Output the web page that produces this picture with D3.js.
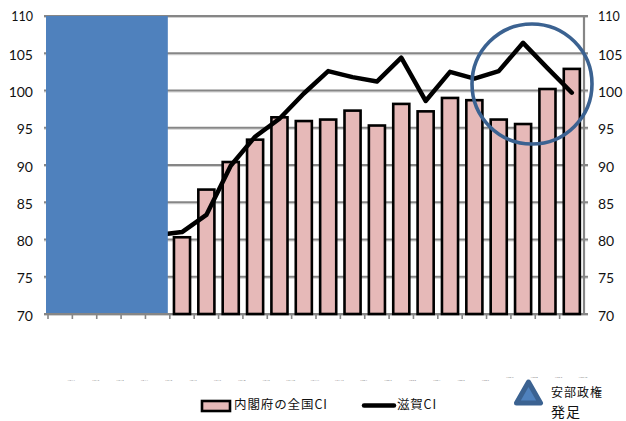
<!DOCTYPE html>
<html>
<head>
<meta charset="utf-8">
<script src="https://cdn.jsdelivr.net/npm/d3@7"></script>
<style>
    html, body { margin: 0; padding: 0; background: #fff; }
    svg { display: block; }
    text { font-family: Lato, "Open Sans", sans-serif; fill: #111; }
    .cjk { font-family: "Noto Sans CJK JP", sans-serif; }
</style>
</head>
<body>
<div id="chart"></div>
<script>
// tick labels are too small to read in the picture, these are a guess
var months = ["H24.1", "H24.2", "H24.3", "H24.4", "H24.5", "H24.6", "H24.7", "H24.8", "H24.9", "H24.10", "H24.11",
    "H24.12", "H25.1", "H25.2", "H25.3", "H25.4", "H25.5", "H25.6", "H25.7", "H25.8", "H25.9", "H25.10"];
// first 5 sit behind the blue box
var nationalCI = [null, null, null, null, null, 80.3, 86.7, 90.4, 93.4, 96.4, 95.9, 96.1, 97.3, 95.3, 98.2, 97.2, 99.0, 98.7, 96.1, 95.5, 100.2, 102.9];
var shigaCI = [null, null, null, null, 80.6, 81.0, 83.3, 89.9, 93.8, 96.2, 99.6, 102.6, 101.8, 101.2, 104.4, 98.6, 102.5, 101.6, 102.6, 106.4, 103.0, 99.7];
var yTicks = [70, 75, 80, 85, 90, 95, 100, 105, 110];
var hiddenCount = 5;

var width = 626, height = 421;
var plotLeft = 48, plotRight = 584, plotTop = 16, plotBottom = 314;
var gray = "#868686";

var svg = d3.select("#chart").append("svg")
    .attr("width", width)
    .attr("height", height);

var x = d3.scaleBand().domain(months).range([plotLeft, plotRight]);
var y = d3.scaleLinear().domain([70, 110]).range([plotBottom, plotTop]);

// grid, with the soft shadow the original has below each line
yTicks.forEach(function(t) {
    svg.append("line")
        .attr("x1", plotLeft - 4).attr("x2", plotRight + 4)
        .attr("y1", y(t) + 1.5).attr("y2", y(t) + 1.5)
        .attr("stroke", "#d0d0d0").attr("stroke-width", 1);
    svg.append("line")
        .attr("x1", plotLeft - 4).attr("x2", plotRight + 4)
        .attr("y1", y(t)).attr("y2", y(t))
        .attr("stroke", gray).attr("stroke-width", 2.2);
});

svg.append("line")
    .attr("x1", plotRight).attr("x2", plotRight)
    .attr("y1", plotTop).attr("y2", plotBottom)
    .attr("stroke", gray).attr("stroke-width", 2.2);

// x ticks
svg.selectAll(".xtick")
    .data(months)
    .enter().append("line")
    .attr("class", "xtick")
    .attr("x1", function(d) { return x(d); })
    .attr("x2", function(d) { return x(d); })
    .attr("y1", plotBottom).attr("y2", plotBottom + 5)
    .attr("stroke", gray).attr("stroke-width", 1.6);

// y labels, the top one is a bit smaller and higher in the original
function labelY(d) { return y(d) + (d === 110 ? 5 : 6.5); }
function labelSize(d) { return d === 110 ? 12.5 : 14; }

svg.selectAll(".yleft")
    .data(yTicks)
    .enter().append("text")
    .attr("class", "yleft")
    .attr("x", 33)
    .attr("y", labelY)
    .attr("text-anchor", "end")
    .attr("font-size", labelSize)
    .text(function(d) { return d; });

svg.selectAll(".yright")
    .data(yTicks)
    .enter().append("text")
    .attr("class", "yright")
    .attr("x", 598)
    .attr("y", labelY)
    .attr("font-size", labelSize)
    .text(function(d) { return d; });

// tiny category labels, last four sit a little higher
svg.selectAll(".xlabel")
    .data(months)
    .enter().append("text")
    .attr("class", "xlabel")
    .attr("x", function(d) { return x(d) + x.step() - 1; })
    .attr("y", function(d, i) { return i >= 18 ? 378 : 381; })
    .attr("text-anchor", "middle")
    .attr("font-size", 2.6)
    .style("fill", "#777")
    .text(function(d) { return d; });

// bars
var barW = x.step() * 0.66;
svg.selectAll(".bar")
    .data(months.map(function(m, i) { return { m: m, v: nationalCI[i] }; }).filter(function(d) { return d.v !== null; }))
    .enter().append("rect")
    .attr("class", "bar")
    .attr("x", function(d) { return x(d.m) + (x.step() - barW) / 2; })
    .attr("width", barW)
    .attr("y", function(d) { return y(d.v); })
    .attr("height", function(d) { return plotBottom - y(d.v); })
    .attr("fill", "#E6B9B8")
    .attr("stroke", "#000")
    .attr("stroke-width", 2.6);

// line
var line = d3.line()
    .defined(function(d) { return d.v !== null; })
    .x(function(d) { return x(d.m) + x.step() / 2; })
    .y(function(d) { return y(d.v); });

svg.append("path")
    .datum(months.map(function(m, i) { return { m: m, v: shigaCI[i] }; }))
    .attr("d", line)
    .attr("fill", "none")
    .attr("stroke", "#000")
    .attr("stroke-width", 4.5)
    .attr("stroke-linejoin", "round")
    .attr("stroke-linecap", "round");

// blue box hiding the earlier months
svg.append("rect")
    .attr("x", 46)
    .attr("y", y(110))
    .attr("width", x(months[hiddenCount]) - 2 - 46)
    .attr("height", plotBottom - 1 - y(110))
    .attr("fill", "#4F81BD");

// circle round the last points
svg.append("circle")
    .attr("cx", 532).attr("cy", 84).attr("r", 60)
    .attr("fill", "none")
    .attr("stroke", "#3B6291")
    .attr("stroke-width", 3.6);

// legend
svg.append("rect")
    .attr("x", 202).attr("y", 401)
    .attr("width", 28).attr("height", 10)
    .attr("fill", "#E6B9B8")
    .attr("stroke", "#000")
    .attr("stroke-width", 2.6);
svg.append("text").attr("class", "cjk")
    .attr("x", 234).attr("y", 409)
    .attr("font-size", 12.5)
    .attr("letter-spacing", 0.9)
    .text("内閣府の全国CI");

svg.append("line")
    .attr("x1", 364).attr("x2", 394)
    .attr("y1", 405.5).attr("y2", 405.5)
    .attr("stroke", "#000")
    .attr("stroke-width", 4.5)
    .attr("stroke-linecap", "round");
svg.append("text").attr("class", "cjk")
    .attr("x", 397).attr("y", 409)
    .attr("font-size", 12.5)
    .attr("letter-spacing", 0.8)
    .text("滋賀CI");

// triangle marker
svg.append("path")
    .attr("d", d3.line()([[528.5, 382], [540.5, 403], [516.5, 403]]) + "Z")
    .attr("fill", "#4F81BD")
    .attr("stroke", "#3B6291")
    .attr("stroke-width", 5)
    .attr("stroke-linejoin", "round");

svg.append("text").attr("class", "cjk")
    .attr("x", 551).attr("y", 397)
    .attr("font-size", 12)
    .attr("letter-spacing", 1)
    .text("安部政権");
svg.append("text").attr("class", "cjk")
    .attr("x", 551).attr("y", 417)
    .attr("font-size", 14)
    .attr("letter-spacing", 1)
    .text("発足");
</script>
</body>
</html>
